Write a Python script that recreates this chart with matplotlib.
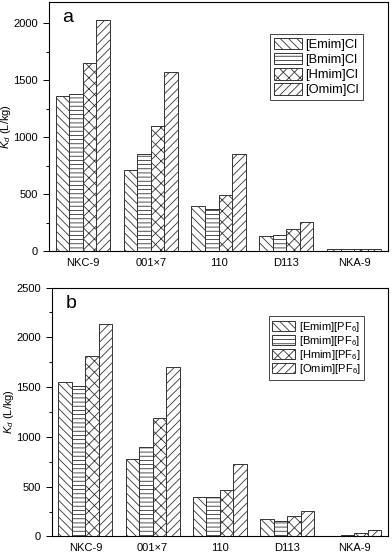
import numpy as np
import matplotlib
matplotlib.use("Agg")
import matplotlib.pyplot as plt
from matplotlib.ticker import MultipleLocator

plt.rcParams['font.family'] = ['Liberation Sans', 'DejaVu Sans']
plt.rcParams['mathtext.fontset'] = 'custom'
plt.rcParams['mathtext.rm'] = 'Liberation Sans'
plt.rcParams['mathtext.it'] = 'Liberation Sans:italic'
plt.rcParams['hatch.linewidth'] = 0.6
plt.rcParams['hatch.color'] = '#333333'

resins = ['NKC-9', '001×7', '110', 'D113', 'NKA-9']

# panel a: chloride ionic liquids
labels_a = ['[Emim]Cl', '[Bmim]Cl', '[Hmim]Cl', '[Omim]Cl']
emim_cl = [1360, 715, 399, 135, 20]
bmim_cl = [1378, 850, 367, 144, 15]
hmim_cl = [1654, 1100, 493, 196, 20]
omim_cl = [2029, 1572, 853, 255, 15]

# panel b: PF6 ionic liquids
labels_b = ['[Emim][PF$_6$]', '[Bmim][PF$_6$]', '[Hmim][PF$_6$]', '[Omim][PF$_6$]']
emim_pf6 = [1555, 777, 395, 178, 3]
bmim_pf6 = [1511, 901, 395, 154, 13]
hmim_pf6 = [1816, 1190, 462, 201, 37]
omim_pf6 = [2138, 1699, 724, 255, 67]

hatches = ['\\\\\\\\', '----', 'xxx', '////']

fig = plt.figure(figsize=(3.92, 5.53), dpi=100)
ax1 = fig.add_axes([0.125, 0.546, 0.865, 0.451])
ax2 = fig.add_axes([0.132, 0.030, 0.858, 0.450])


def draw(ax, series, labels, ymax, letter, legfs, legpos, hlen, lspace):
    x = np.arange(len(resins))
    w = 0.2
    for i, vals in enumerate(series):
        ax.bar(x + (i - 1.5) * w, vals, w, color='white', edgecolor='#333333',
               linewidth=0.7, hatch=hatches[i], label=labels[i])
    ax.set_xlim(-0.5, 4.5)
    ax.set_ylim(0, ymax)
    ax.set_xticks(x)
    ax.set_xticklabels(resins, fontsize=8)
    ax.tick_params(axis='x', length=0, pad=5)
    ax.yaxis.set_major_locator(MultipleLocator(500))
    ax.yaxis.set_minor_locator(MultipleLocator(250))
    ax.tick_params(axis='y', which='major', direction='out', length=4, width=0.7,
                   labelsize=8, pad=4)
    ax.tick_params(axis='y', which='minor', direction='out', length=2.5, width=0.7)
    for s in ax.spines.values():
        s.set_linewidth(0.8)
    ax.set_ylabel('$K_d$ (L/kg)', fontsize=8)
    ax.yaxis.set_label_coords(-0.105, 0.5)
    ax.text(0.04, 0.97, letter, transform=ax.transAxes, fontsize=14,
            ha='left', va='top')
    leg = ax.legend(loc='upper right', bbox_to_anchor=legpos, fontsize=legfs,
                    handlelength=hlen, handleheight=1.0, handletextpad=0.3,
                    labelspacing=lspace, borderpad=0.3, borderaxespad=0,
                    fancybox=False, framealpha=1, edgecolor='#444444')
    leg.get_frame().set_linewidth(0.7)


draw(ax1, [emim_cl, bmim_cl, hmim_cl, omim_cl], labels_a, 2190, 'a',
     9.3, (0.926, 0.871), 2.15, 0.15)
draw(ax2, [emim_pf6, bmim_pf6, hmim_pf6, omim_pf6], labels_b, 2500, 'b',
     8, (0.929, 0.885), 2.1, 0.02)

fig.savefig('out.png', dpi=100)
